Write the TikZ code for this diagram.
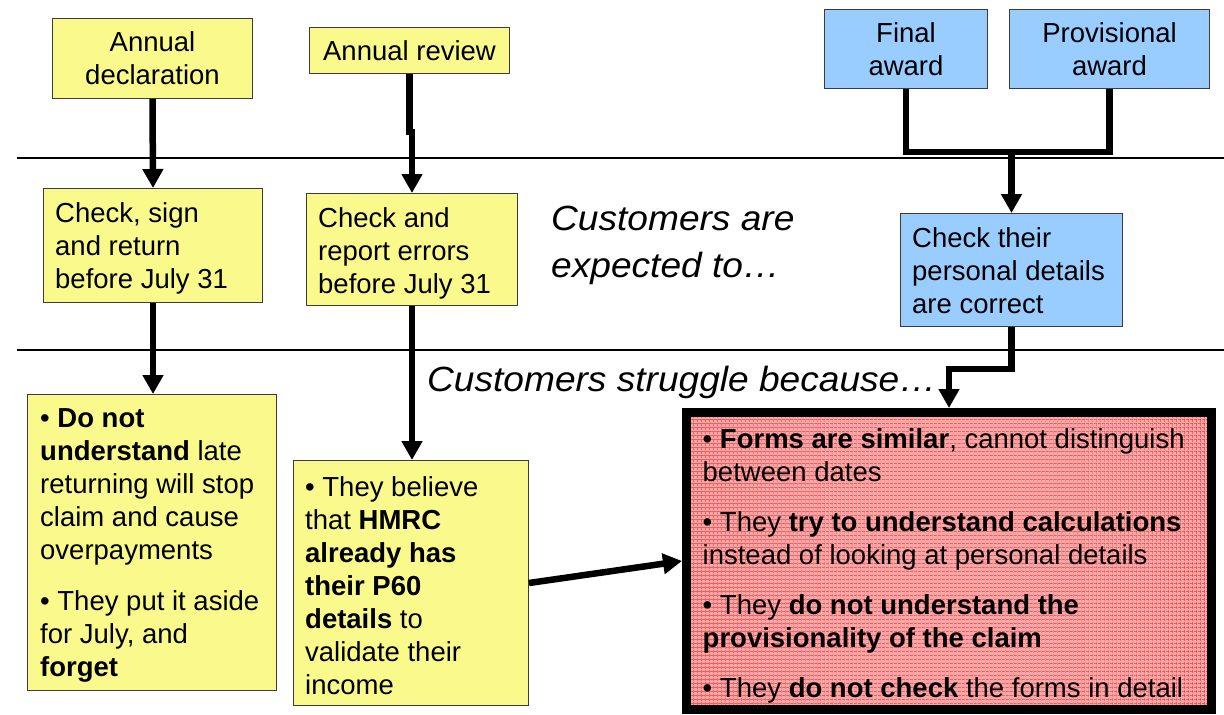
\documentclass[tikz,border=0pt]{standalone}
\usepackage{fontspec}
\setmainfont{Liberation Sans}
\newfontfamily\headfont[FakeStretch=1.06]{Liberation Sans}
\usetikzlibrary{arrows.meta,patterns.meta}
\definecolor{boxyellow}{RGB}{250,250,140}
\definecolor{boxblue}{RGB}{153,204,255}
\definecolor{boxpink}{RGB}{248,168,168}
\definecolor{gridred}{RGB}{240,50,50}
\definecolor{edgegray}{RGB}{60,60,60}
\tikzset{
  box/.style={draw=edgegray, line width=1pt, inner sep=0pt, anchor=north west},
  ybox/.style={box, fill=boxyellow},
  bbox/.style={box, fill=boxblue},
  boxtext/.style={font=\fontsize{27.5}{33}\selectfont, inner sep=0pt, align=left, anchor=west, yshift=-3pt},
  ctext/.style={font=\fontsize{27.5}{33}\selectfont, align=center},
  arr/.style={line width=6.5pt, -{Triangle[width=20pt,length=19pt]}},
  conn/.style={line width=6.5pt, line join=miter},
  sep/.style={line width=1.2pt, black},
  heading/.style={font=\fontsize{35}{47}\headfont\itshape, inner sep=0pt, align=left}
}
\begin{document}
\begin{tikzpicture}[x=1pt,y=-1pt]
\useasboundingbox (0,0) rectangle (1224,715);

% separators between the stages
\draw[sep] (17,158) -- (1224,158);
\draw[sep] (17,350) -- (1224,350);

% top row: triggers
\node[ybox, ctext, minimum width=200pt, minimum height=80pt] (decl) at (52,18) {Annual\\declaration};
\node[ybox, ctext, minimum width=200pt, minimum height=46pt] (rev) at (309,27) {Annual review};
\node[bbox, ctext, minimum width=163pt, minimum height=79pt] (fin) at (824,9) {Final\\award};
\node[bbox, ctext, minimum width=200pt, minimum height=79pt] (prov) at (1009,9) {Provisional\\award};

% middle row: what customers are expected to do
\node[ybox, minimum width=219pt, minimum height=114pt] (chk1) at (43,188) {};
\node[boxtext] (chk1t) at ([xshift=12pt]chk1.west) {Check, sign\\and return\\before July 31};
\node[ybox, minimum width=211pt, minimum height=112pt] (chk2) at (306,193) {};
\node[boxtext] (chk2t) at ([xshift=12pt,yshift=-1pt]chk2.west) {Check and\\report errors\\before July 31};
\node[bbox, minimum width=222pt, minimum height=113pt] (det) at (900,213) {};
\node[boxtext] (dett) at ([xshift=12pt,yshift=2pt]det.west) {Check their\\personal details\\are correct};

\node[heading, anchor=north west] (expect) at (551,206) {Customers are\\expected to…};
\node[heading, anchor=base west] (struggle) at (427,391) {Customers struggle because…};

% bottom row: why customers struggle
\node[ybox, minimum width=249pt, minimum height=296pt] (why1) at (27,394) {};
\node[boxtext] (why1t) at ([xshift=13pt]why1.west) {• \textbf{Do not}\\\textbf{understand} late\\returning will stop\\claim and cause\\overpayments\\[18pt]• They put it aside\\for July, and\\\textbf{forget}};
\node[ybox, minimum width=235pt, minimum height=245pt] (why2) at (293,460) {};
\node[boxtext] (why2t) at ([xshift=12pt]why2.west) {• They believe\\that \textbf{HMRC}\\\textbf{already has}\\\textbf{their P60}\\\textbf{details} to\\validate their\\income};
\node[draw=black, line width=9pt, fill=boxpink, inner sep=0pt, anchor=north west,
      minimum width=525pt, minimum height=297pt,
      postaction={pattern={Lines[angle=0,distance=4pt,line width=0.5pt]}, pattern color=gridred},
      postaction={pattern={Lines[angle=90,distance=4pt,line width=0.5pt]}, pattern color=gridred},
      postaction={draw=black, line width=9pt}]
      (why3) at (682,408) {};
\node[boxtext] (why3t) at ([xshift=20.5pt,yshift=-2pt]why3.west) {• \textbf{Forms are similar}, cannot distinguish\\between dates\\[17pt]• They \textbf{try to understand calculations}\\instead of looking at personal details\\[17pt]• They \textbf{do not understand the}\\\textbf{provisionality of the claim}\\[17pt]• They \textbf{do not check} the forms in detail};

% connectors
\draw[arr] (decl.south) -- (chk1.north);
\draw[arr] (rev.south) -- (rev.south |- 0,132) -- (chk2.north |- 0,132) -- (chk2.north);
\draw[conn] (fin.south) -- (fin.south |- 0,152) -- (prov.south |- 0,152) -- (prov.south);
\coordinate (join) at (det.north |- 0,152);
\draw[arr] (join) -- (det.north);
\draw[arr] (chk1.south) -- (chk1.south |- why1.north);
\draw[arr] (chk2.south) -- (chk2.south |- why2.north);
\draw[arr] (det.south) -- ++(0,42) -| (why3.north);
\draw[arr] (why2.east) -- (why3.west);
\end{tikzpicture}
\end{document}
